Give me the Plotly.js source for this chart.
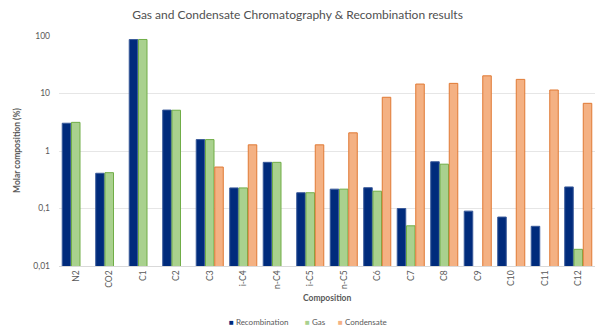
<!DOCTYPE html>
<html>
<head>
<meta charset="utf-8">
<script src="https://cdn.plot.ly/plotly-3.0.1.min.js"></script>
<style>
  html, body { margin: 0; padding: 0; background: #ffffff; }
  #chart { width: 595px; height: 329px; }
</style>
</head>
<body>
<div id="chart"></div>
<script>
// Components on the x axis
const components = ["N2", "CO2", "C1", "C2", "C3", "i-C4", "n-C4", "i-C5", "n-C5",
                    "C6", "C7", "C8", "C9", "C10", "C11", "C12"];

// Molar composition (%) per component; null = not measured / not present
const recombination = [3.04, 0.41, 86.7, 5.15, 1.58, 0.228, 0.635, 0.188, 0.217,
                       0.23, 0.10, 0.65, 0.09, 0.071, 0.049, 0.237];
const gas           = [3.15, 0.42, 87.0, 5.12, 1.58, 0.228, 0.635, 0.188, 0.217,
                       0.20, 0.050, 0.59, null, null, null, 0.0195];
const condensate    = [null, null, null, null, 0.526, 1.28, null, 1.28, 2.07,
                       8.6, 14.6, 15.0, 20.3, 17.6, 11.5, 6.75];

// Log axis ticks written with a decimal comma
const yTickValues = [0.01, 0.1, 1, 10, 100];
const yTickLabels = ["0,01", "0,1", "1", "10", "100"];

const FONT = "Lato, 'Open Sans', 'Liberation Sans', sans-serif";
const GREY = "#595959";

const PLOT_LEFT = 59, PLOT_WIDTH = 536;

const series = [
  { name: "Recombination", y: recombination, fill: "#002B7C", line: "#3A5A9A" },
  { name: "Gas",           y: gas,           fill: "#A9D18E", line: "#70AD47" },
  { name: "Condensate",    y: condensate,    fill: "#F4B183", line: "#E07A35" }
];

const traces = series.map(s => ({
  type: "bar",
  name: s.name,
  x: components,
  y: s.y,
  marker: { color: s.fill, line: { color: s.line, width: 1 } },
  hoverinfo: "x+y+name",
  showlegend: false
}));

// Compact legend row below the axis title: a coloured square followed by the series name
const legendX = [228, 304, 337];
const legendItems = series.map((s, i) => ({
  text: '<span style="color:' + s.fill + '">■</span> ' + s.name,
  xref: "paper", yref: "paper",
  x: (legendX[i] - PLOT_LEFT) / PLOT_WIDTH, y: -0.244,
  xanchor: "left", yanchor: "middle",
  borderpad: 0,
  showarrow: false,
  font: { family: FONT, size: 8, color: GREY }
}));

const layout = {
  width: 595,
  height: 329,
  margin: { l: PLOT_LEFT, r: 0, t: 36, b: 63 },
  paper_bgcolor: "#ffffff",
  plot_bgcolor: "#ffffff",
  font: { family: FONT, color: GREY, size: 9 },
  title: {
    text: "Gas and Condensate Chromatography & Recombination results",
    font: { family: FONT, size: 12, color: "#505050" },
    x: 0.5, xanchor: "center", xref: "container",
    y: 1 - 15 / 329, yanchor: "middle", yref: "container"
  },
  barmode: "group",
  bargap: 0.17,
  bargroupgap: 0.08,
  xaxis: {
    type: "category",
    tickangle: -90,
    tickfont: { family: FONT, size: 8.5, color: GREY },
    showgrid: false,
    showline: true,
    linecolor: "#D9D9D9",
    linewidth: 1,
    ticks: "",
    automargin: false
  },
  yaxis: {
    type: "log",
    range: [-2, 2],
    tickvals: yTickValues,
    ticktext: yTickLabels,
    tickfont: { family: FONT, size: 8.5, color: GREY },
    showgrid: true,
    gridcolor: "#E6E6E6",
    gridwidth: 1,
    zeroline: false,
    showline: false,
    ticks: "",
    ticklabelstandoff: 8,
    automargin: false
  },
  showlegend: false,
  annotations: [
    {
      text: "<b>Composition</b>",
      xref: "paper", yref: "paper",
      x: 0.5, y: -0.14, xanchor: "center", yanchor: "middle",
      showarrow: false,
      font: { family: FONT, size: 8.5, color: GREY }
    },
    {
      text: "<b>Molar composition (%)</b>",
      xref: "paper", yref: "paper",
      x: (17 - PLOT_LEFT) / PLOT_WIDTH, y: 0.5, xanchor: "center", yanchor: "middle",
      textangle: -90,
      showarrow: false,
      font: { family: FONT, size: 8.5, color: GREY }
    }
  ].concat(legendItems)
};

Plotly.newPlot("chart", traces, layout, { displayModeBar: false, staticPlot: true });
</script>
</body>
</html>
